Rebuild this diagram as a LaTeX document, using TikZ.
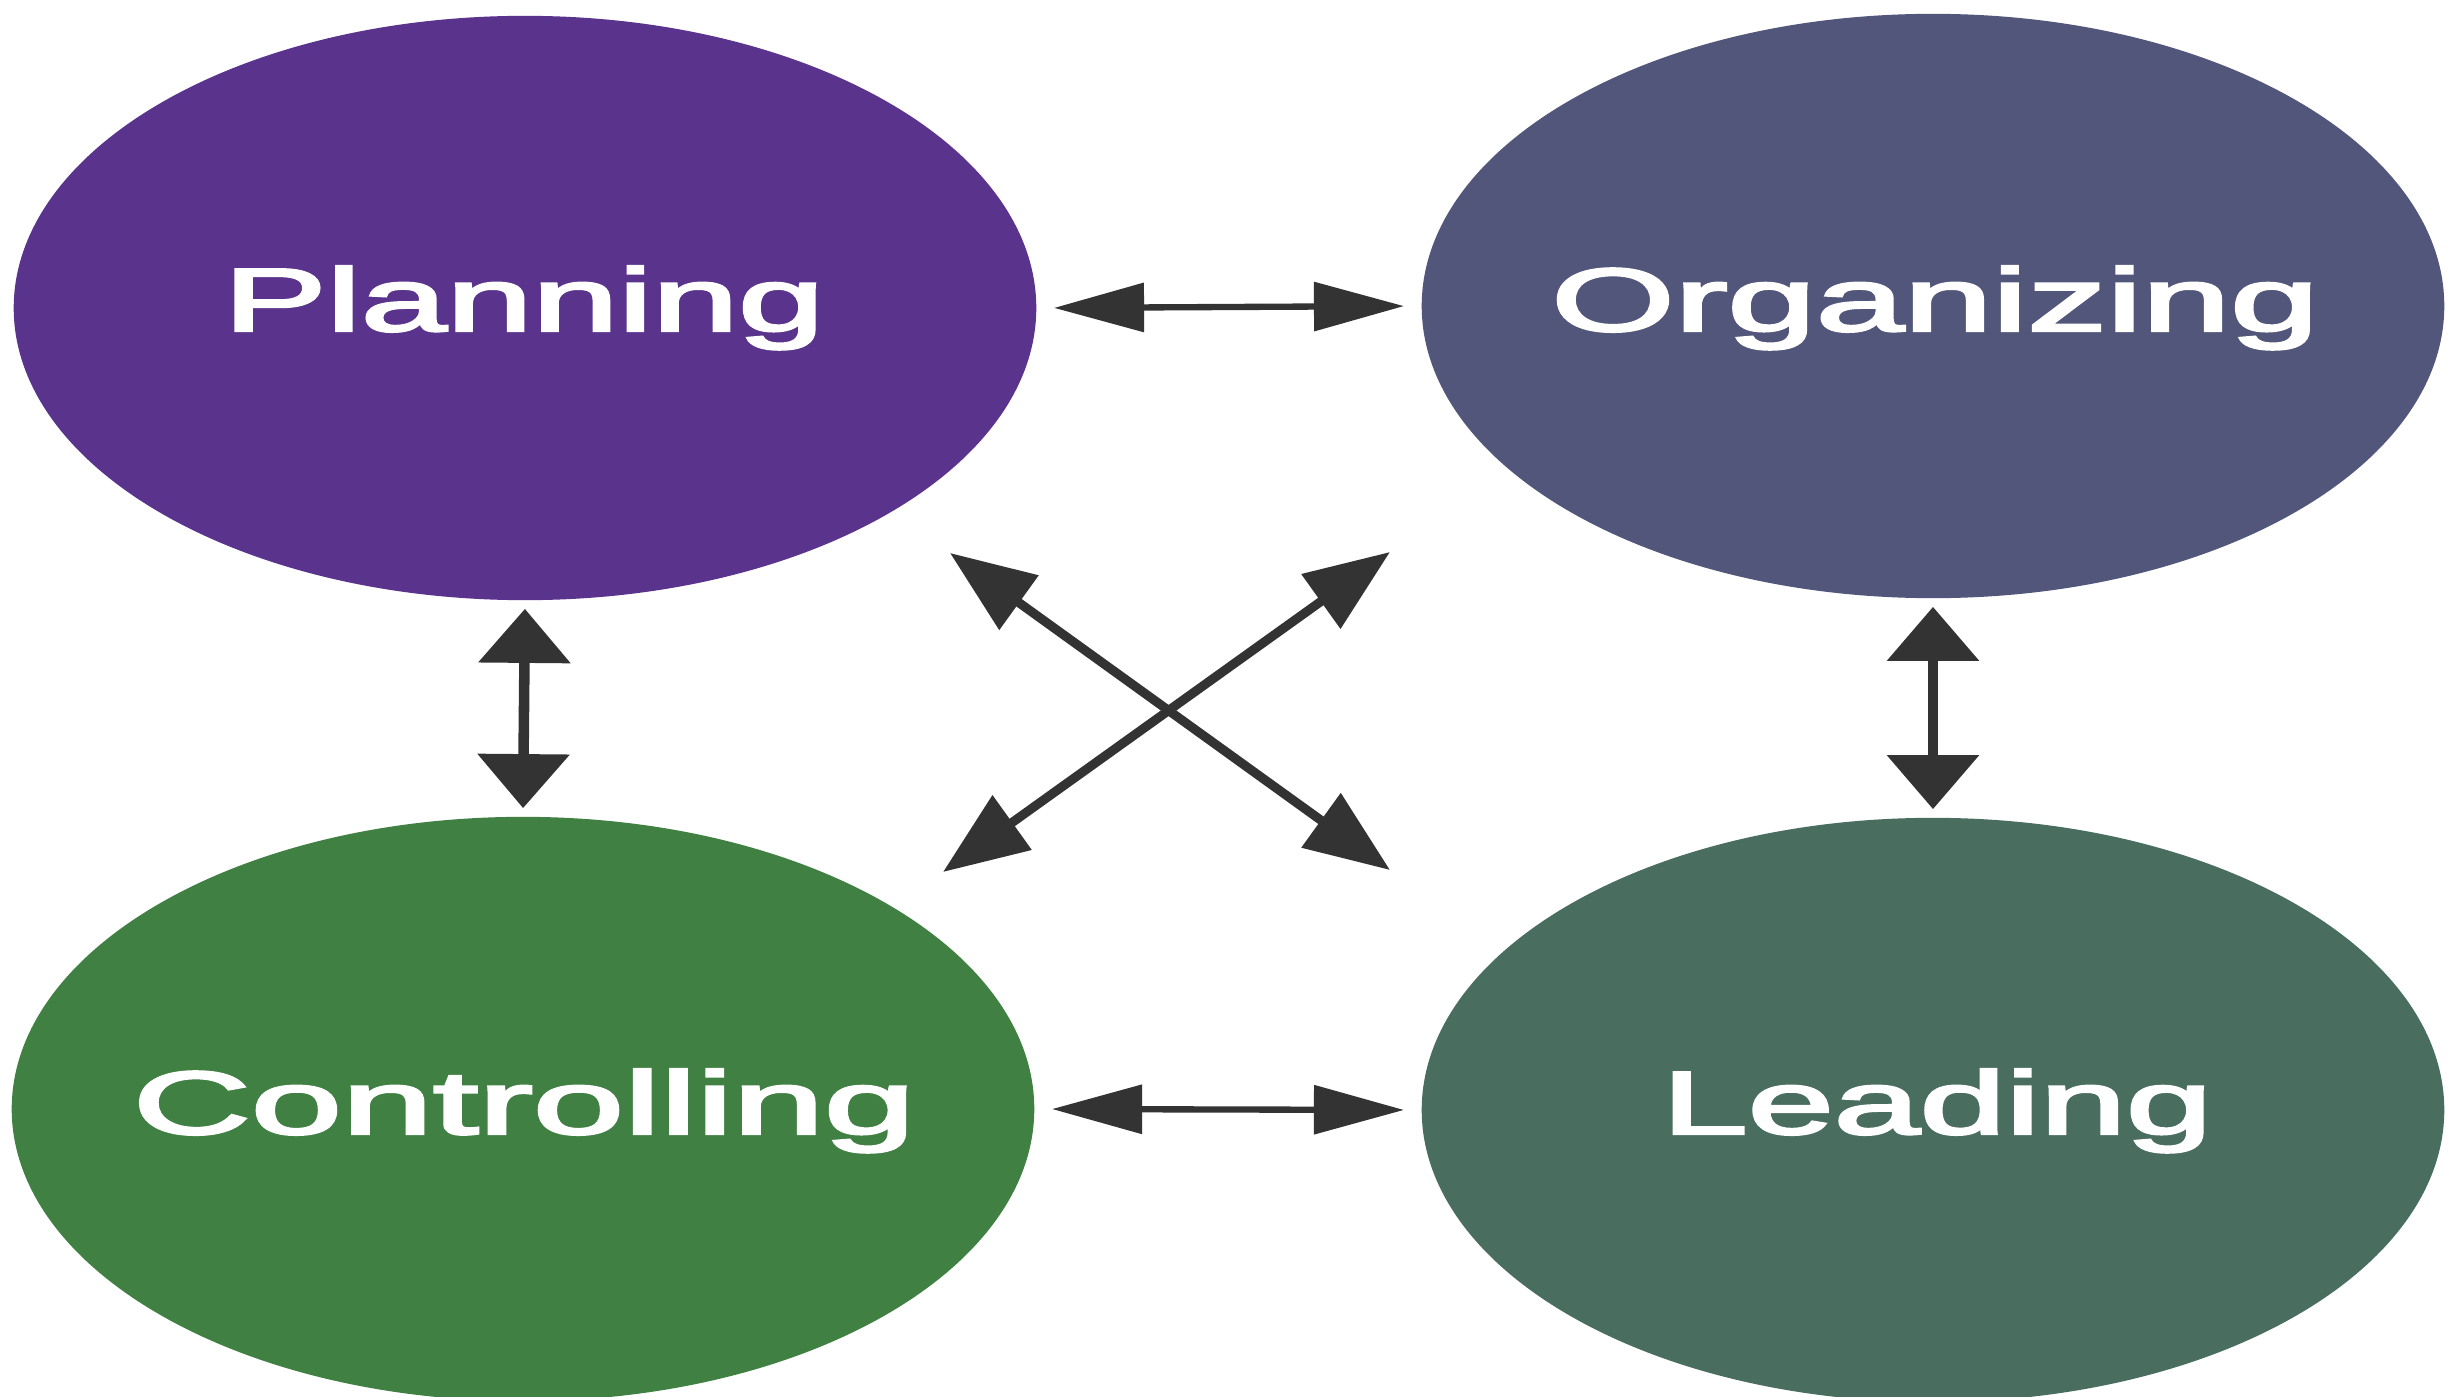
\documentclass[tikz,border=0pt]{standalone}
\usepackage{fontspec}
\usepackage{graphicx}
\setmainfont{Liberation Sans}
\newfontfamily\lblfont{Liberation Sans}[FakeBold=2.6]
\usetikzlibrary{arrows.meta,shapes.geometric}
\definecolor{cplan}{HTML}{5A338C}
\definecolor{corg}{HTML}{51567A}
\definecolor{cctrl}{HTML}{408043}
\definecolor{clead}{HTML}{496D5F}
\definecolor{carrow}{HTML}{333333}
\tikzset{
  blob/.style={ellipse, inner sep=0pt, minimum width=10.22cm, minimum height=5.84cm, draw=none},
  lbl/.style={anchor=base, inner sep=0pt, text=white, font=\fontsize{25.5}{30}\lblfont},
  link/.style={draw=carrow},
  harrow/.style={link, line width=1.8pt, {Triangle[length=0.9cm,width=0.48cm]}-{Triangle[length=0.9cm,width=0.48cm]}, shorten <=0.17cm, shorten >=0.17cm},
  varrow/.style={link, line width=3.0pt, {Triangle[length=0.54cm,width=0.9cm]}-{Triangle[length=0.54cm,width=0.9cm]}, shorten <=0.08cm, shorten >=0.08cm},
  darrow/.style={link, line width=2.6pt, {Triangle[length=0.85cm,width=0.65cm]}-{Triangle[length=0.85cm,width=0.65cm]}}
}
\begin{document}
\begin{tikzpicture}[x=0.01cm, y=-0.01cm]
\fill[white] (0,0) rectangle (2459,1397);
\useasboundingbox (0,0) rectangle (2459,1397);
\node[blob, fill=cplan] (P) at (525,308) {};
\node[blob, fill=corg] (O) at (1933,306) {};
\node[blob, fill=cctrl] (C) at (523,1109) {};
\node[blob, fill=clead] (L) at (1933,1110) {};
\node[lbl] (Pt) at (524,331) {\resizebox{6.0cm}{\height}{Planning}};
\node[lbl] (Ot) at (1935,331) {\resizebox{7.67cm}{\height}{Organizing}};
\node[lbl] (Ct) at (524,1134) {\resizebox{7.82cm}{\height}{Controlling}};
\node[lbl] (Lt) at (1937,1134) {\resizebox{5.5cm}{\height}{Leading}};
\coordinate (d1a) at (950,553);
\coordinate (d1b) at (1390,870);
\coordinate (d2a) at (1390,552);
\coordinate (d2b) at (943,872);
\draw[harrow] (P.east) -- (O.west);
\draw[harrow] (C.east) -- (L.west);
\draw[varrow] (P.south) -- (C.north);
\draw[varrow] (O.south) -- (L.north);
\draw[darrow] (d1a) -- (d1b);
\draw[darrow] (d2a) -- (d2b);
\end{tikzpicture}
\end{document}
